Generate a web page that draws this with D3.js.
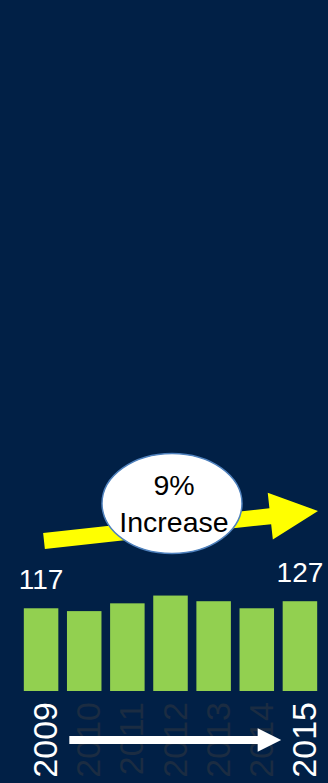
<!DOCTYPE html>
<html lang="en">
<head>
<meta charset="UTF-8">
<title>9% Increase</title>
<style>
  html, body { margin: 0; padding: 0; background: #012046; }
  svg { display: block; }
  text { font-family: "Liberation Sans", Arial, sans-serif; }
</style>
</head>
<body>
<div id="chart"></div>
<script src="https://d3js.org/d3.v7.min.js"></script>
<script>
  const years = ["2009", "2010", "2011", "2012", "2013", "2014", "2015"];
  const values = [117, 113, 124, 135, 127, 117, 127];
  const shownLabels = ["2009", "2015"];   // years with value + bright axis label
  const calloutLines = ["9%", "Increase"];

  const W = 328, H = 783;
  const baseY = 691;

  const svg = d3.select("#chart").append("svg")
      .attr("width", W)
      .attr("height", H);

  svg.append("rect")
      .attr("width", W)
      .attr("height", H)
      .attr("fill", "#012046");

  const x = d3.scaleBand()
      .domain(years)
      .range([19.5, 321.5])
      .paddingInner(0.2)
      .paddingOuter(0.1);

  const y = d3.scaleLinear()
      .domain([0, 140])
      .range([baseY, baseY - 140 * 0.707]);

  // bars
  svg.append("g")
    .selectAll("rect")
    .data(years)
    .enter().append("rect")
      .attr("x", d => x(d))
      .attr("y", (d, i) => y(values[i]))
      .attr("width", x.bandwidth())
      .attr("height", (d, i) => baseY - y(values[i]))
      .attr("fill", "#92d050");

  // value labels, first and last only
  svg.append("g")
    .selectAll("text")
    .data(years.filter(d => shownLabels.includes(d)))
    .enter().append("text")
      .attr("x", d => x(d) + x.bandwidth() / 2)
      .attr("y", d => y(values[years.indexOf(d)]) - 19)
      .attr("text-anchor", "middle")
      .attr("font-size", 28)
      .attr("fill", "#fff")
      .text(d => values[years.indexOf(d)]);

  // rotated year labels
  svg.append("g")
    .selectAll("text")
    .data(years)
    .enter().append("text")
      .attr("transform", d => `translate(${x(d) + x.bandwidth() / 2 + 16}, 702) rotate(-90)`)
      .attr("text-anchor", "end")
      .attr("font-size", 34)
      .attr("fill", d => shownLabels.includes(d) ? "#fff" : "#1b2c42")
      .text(d => d);

  // arrow helper: shaft + head polygon along a direction
  function arrow(x1, y1, x2, y2, shaft, headW, headL) {
    const len = Math.hypot(x2 - x1, y2 - y1);
    const ang = Math.atan2(y2 - y1, x2 - x1) * 180 / Math.PI;
    const s = shaft / 2, h = headW / 2, b = len - headL;
    const pts = [[0, -s], [b, -s], [b, -h], [len, 0], [b, h], [b, s], [0, s]];
    return { pts: pts.map(p => p.join(",")).join(" "), transform: `translate(${x1},${y1}) rotate(${ang})` };
  }

  // white time arrow under the bars
  const xa = arrow(x("2009") + x.bandwidth() + 11, 740, x("2015") - 1.5, 740, 8, 23.5, 23.5);
  svg.append("polygon")
      .attr("points", xa.pts)
      .attr("transform", xa.transform)
      .attr("fill", "#fff");

  // yellow trend arrow
  const ya = arrow(44, 541, 318, 511, 16, 47, 48);
  svg.append("polygon")
      .attr("points", ya.pts)
      .attr("transform", ya.transform)
      .attr("fill", "#ffff00");

  // callout bubble
  const callout = svg.append("g").attr("transform", "translate(172,503.5)");
  callout.append("ellipse")
      .attr("rx", 70)
      .attr("ry", 50)
      .attr("fill", "#fff")
      .attr("stroke", "#4f81bd")
      .attr("stroke-width", 1.5);
  callout.selectAll("text")
    .data(calloutLines)
    .enter().append("text")
      .attr("x", 2)
      .attr("y", (d, i) => -8.5 + i * 36.5)
      .attr("text-anchor", "middle")
      .attr("font-size", 28.5)
      .attr("fill", "#000")
      .text(d => d);
</script>
</body>
</html>
